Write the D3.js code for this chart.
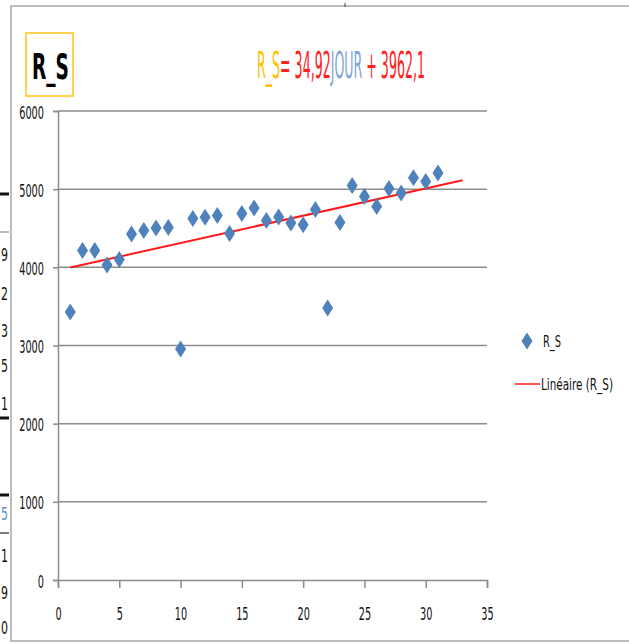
<!DOCTYPE html>
<html>
<head>
<meta charset="utf-8">
<script src="https://cdn.jsdelivr.net/npm/d3@7"></script>
<style>
  html, body { margin: 0; padding: 0; background: #fff; }
  svg { display: block; }
  text { font-family: "Liberation Sans Narrow", "DejaVu Sans Condensed", "Liberation Sans", sans-serif; }
</style>
</head>
<body>
<svg id="chart" width="629" height="643"></svg>
<script>
// Daily R_S readings
const jour = [1, 2, 3, 4, 5, 6, 7, 8, 9, 10, 11, 12, 13, 14, 15, 16,
              17, 18, 19, 20, 21, 22, 23, 24, 25, 26, 27, 28, 29, 30, 31];
const rs = [3430, 4215, 4215, 4030, 4100, 4426, 4470, 4503, 4510, 2955, 4625,
            4640, 4662, 4432, 4690, 4759, 4598, 4644, 4567, 4545, 4740, 3480,
            4572, 5048, 4905, 4778, 5010, 4951, 5145, 5098, 5207];

// Linear trend fitted on R_S
const trendSlope = 34.92;
const trendIntercept = 3962.1;
const trendRange = [1, 33];

const xTicks = [0, 5, 10, 15, 20, 25, 30, 35];
const yTicks = [0, 1000, 2000, 3000, 4000, 5000, 6000];

const seriesName = "R_S";
const trendName = "Linéaire (R_S)";

// Cells of the sheet showing left of the chart frame
const sheetDigits = [
  { y: 254, t: "9" }, { y: 293, t: "2" }, { y: 330, t: "3" }, { y: 365, t: "5" },
  { y: 403, t: "1" }, { y: 513, t: "5", c: "#5b8fd0" }, { y: 555, t: "1" },
  { y: 592, t: "9" }, { y: 627, t: "0" }
];
const sheetRules = [
  { y: 194, w: 3, c: "#111" }, { y: 232, w: 1, c: "#777" }, { y: 418, w: 3, c: "#111" },
  { y: 495, w: 3, c: "#111" }, { y: 533, w: 1.2, c: "#222" }
];

const svg = d3.select("#chart");

// squeeze a text horizontally to a given width, around its own x anchor
function squeeze(textSel, width) {
  textSel.each(function () {
    const t = d3.select(this);
    const ax = +t.attr("x") || 0;
    const w = this.getComputedTextLength();
    t.attr("transform", `translate(${ax},0) scale(${width / w},1) translate(${-ax},0)`);
  });
}

// sheet fragments
const sheet = svg.append("g");
sheet.selectAll("line").data(sheetRules).join("line")
  .attr("x1", 0).attr("x2", 9).attr("y1", d => d.y).attr("y2", d => d.y)
  .attr("stroke", d => d.c).attr("stroke-width", d => d.w);
sheet.selectAll("text").data(sheetDigits).join("text")
  .attr("x", 1).attr("y", d => d.y + 7).attr("text-anchor", "start")
  .attr("font-size", 18).attr("fill", d => d.c || "#111").text(d => d.t)
  .call(squeeze, 7);

// chart frame
svg.append("rect").attr("x", 11).attr("y", 6).attr("width", 640).attr("height", 635)
  .attr("fill", "#fff").attr("stroke", "#a6a6a6").attr("stroke-width", 1.5);
svg.append("line").attr("x1", 345).attr("x2", 345).attr("y1", 3).attr("y2", 7)
  .attr("stroke", "#444").attr("stroke-width", 1);

const plot = { left: 58, right: 487, top: 111, bottom: 580 };
const x = d3.scaleLinear().domain([0, 35]).range([plot.left, plot.right]);
const y = d3.scaleLinear().domain([0, 6000]).range([plot.bottom, plot.top]);

const axisColor = "#8c8c8c";

// horizontal gridlines
svg.append("g").selectAll("line").data(yTicks.filter(v => v > 0)).join("line")
  .attr("x1", plot.left).attr("x2", plot.right)
  .attr("y1", d => y(d)).attr("y2", d => y(d))
  .attr("stroke", axisColor).attr("stroke-width", 1.5);

// y axis
const yAxis = svg.append("g").attr("transform", `translate(${plot.left},0)`)
  .call(d3.axisLeft(y).tickValues(yTicks).tickSize(5).tickPadding(9).tickFormat(d3.format("d")));
// x axis
const xAxis = svg.append("g").attr("transform", `translate(0,${plot.bottom})`)
  .call(d3.axisBottom(x).tickValues(xTicks).tickSize(8).tickPadding(18).tickFormat(d3.format("d")));

[yAxis, xAxis].forEach(g => {
  g.selectAll(".domain, line").attr("stroke", axisColor).attr("stroke-width", 1.5);
  g.selectAll("text").attr("font-size", 17).attr("fill", "#111")
    .attr("font-family", "'Liberation Sans Narrow', 'DejaVu Sans Condensed', sans-serif");
});
yAxis.selectAll("text").attr("dy", "0.42em");
xAxis.selectAll("text").attr("dy", "0.1em").attr("dominant-baseline", "hanging");
[yAxis, xAxis].forEach(g => g.selectAll("text").each(function () {
  d3.select(this).call(squeeze, 6.2 * this.textContent.length);
}));

// trend line
svg.append("line")
  .attr("x1", x(trendRange[0])).attr("y1", y(trendSlope * trendRange[0] + trendIntercept))
  .attr("x2", x(trendRange[1])).attr("y2", y(trendSlope * trendRange[1] + trendIntercept))
  .attr("stroke", "#ff1a1a").attr("stroke-width", 2);

// diamonds
const diamond = "M0,-8.5 L5.5,0 L0,8.5 L-5.5,0 Z";
svg.append("g").selectAll("path").data(jour).join("path")
  .attr("transform", (d, i) => `translate(${x(d)},${y(rs[i])})`)
  .attr("d", diamond).attr("fill", "#4f81bd");

// title box
svg.append("rect").attr("x", 26).attr("y", 33).attr("width", 47).attr("height", 63)
  .attr("fill", "#fff").attr("stroke", "#ffd34d").attr("stroke-width", 2);
svg.append("text").attr("x", 32).attr("y", 79)
  .attr("font-size", 36).attr("font-weight", "bold").attr("fill", "#000")
  .text(seriesName).call(squeeze, 37);

// regression equation
const eq = svg.append("text").attr("x", 257).attr("y", 78).attr("font-size", 37);
eq.append("tspan").attr("fill", "#ffc000").text(seriesName);
eq.append("tspan").attr("fill", "#ff2020").text("= " + d3.format(".2f")(trendSlope).replace(".", ","));
eq.append("tspan").attr("fill", "#7fa6d6").text("JOUR");
eq.append("tspan").attr("fill", "#ff2020").text(" + " + d3.format(".1f")(trendIntercept).replace(".", ","));
squeeze(eq, 168);

// legend
const lg = svg.append("g");
lg.append("path").attr("d", diamond).attr("transform", "translate(527,341)").attr("fill", "#4f81bd");
lg.append("text").attr("x", 543).attr("y", 347).attr("font-size", 16).attr("fill", "#111")
  .text(seriesName).call(squeeze, 18);
lg.append("line").attr("x1", 515).attr("x2", 540).attr("y1", 384).attr("y2", 384)
  .attr("stroke", "#ff1a1a").attr("stroke-width", 1.5);
lg.append("text").attr("x", 541).attr("y", 390).attr("font-size", 16).attr("fill", "#111")
  .text(trendName).call(squeeze, 72);
</script>
</body>
</html>
